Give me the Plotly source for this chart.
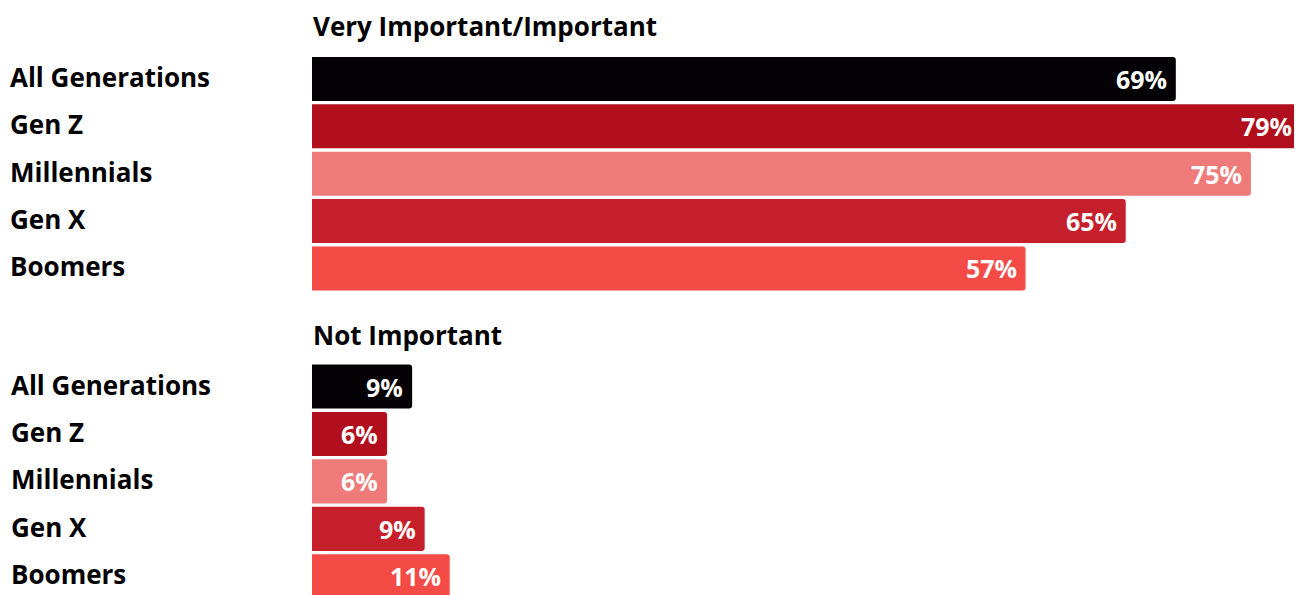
import plotly.graph_objects as go

categories = ["All Generations", "Gen Z", "Millennials", "Gen X", "Boomers"]
important_values = [69, 79, 75, 65, 57]
important_labels = ["69%", "79%", "75%", "65%", "57%"]
not_important_values = [8, 6, 6, 9, 11]
not_important_labels = ["9%", "6%", "6%", "9%", "11%"]
colors = ["#050205", "#b10e1e", "#ee7b79", "#c51f2b", "#f44b47"]
titles = ["Very Important/Important", "Not Important"]

OFF = 8  # page body margin
W, H = 1302 - OFF, 595 - OFF
L, R = 312 - OFF, 1
FONT = "Open Sans"

def py(pix):
    return 1 - (pix - OFF) / H

def px_x(pix):
    return (pix - OFF - L) / (W - L - R)

fig = go.Figure()
fig.add_trace(go.Bar(y=categories, x=important_values, orientation="h",
                     marker=dict(color=colors, line=dict(width=0)),
                     xaxis="x", yaxis="y", hoverinfo="skip"))
fig.add_trace(go.Bar(y=categories, x=not_important_values, orientation="h",
                     marker=dict(color=colors, line=dict(width=0)),
                     xaxis="x2", yaxis="y2", hoverinfo="skip"))

annotations = []
for yref, vals, labs, lx in [("y", important_values, important_labels, 8),
                             ("y2", not_important_values, not_important_labels, 9)]:
    xref = "x" if yref == "y" else "x2"
    for c, v, lab in zip(categories, vals, labs):
        annotations.append(dict(x=v, y=c, xref=xref, yref=yref, text=lab,
                                showarrow=False, xanchor="right", yanchor="middle",
                                xshift=-7, font=dict(family=FONT, size=25, color="white", weight="bold")))
        annotations.append(dict(x=px_x(lx), y=c, xref="paper", yref=yref, text=c,
                                showarrow=False, xanchor="left", yanchor="middle",
                                yshift=2,
                                font=dict(family=FONT, size=26, color="black", weight="bold")))

for t, pix in zip(titles, [26, 335]):
    annotations.append(dict(x=px_x(311), y=py(pix), xref="paper", yref="paper", text=t,
                            showarrow=False, xanchor="left", yanchor="middle",
                            font=dict(family=FONT, size=26, color="black", weight="bold")))

pitch = 47.45
top_dom = [py(268 + pitch * 0.5 + 0.4), py(79 - pitch * 0.5)]
bot_top = 386.5 - pitch * 0.5
bot_dom = [0, py(bot_top)]
cut = 4.5 - ((bot_top + 5 * pitch) - 595) / pitch

fig.update_layout(
    width=W, height=H,
    margin=dict(l=L, r=R, t=0, b=0),
    paper_bgcolor="white", plot_bgcolor="white",
    showlegend=False, bargap=0.07, barcornerradius=3,
    xaxis=dict(range=[0, 79], visible=False, fixedrange=True, anchor="y"),
    xaxis2=dict(range=[0, 79], visible=False, fixedrange=True, anchor="y2"),
    yaxis=dict(domain=top_dom, range=[4.5, -0.5], visible=False, type="category"),
    yaxis2=dict(domain=bot_dom, range=[cut, -0.5], visible=False, type="category"),
    annotations=annotations,
)

fig.write_html("out.html")
